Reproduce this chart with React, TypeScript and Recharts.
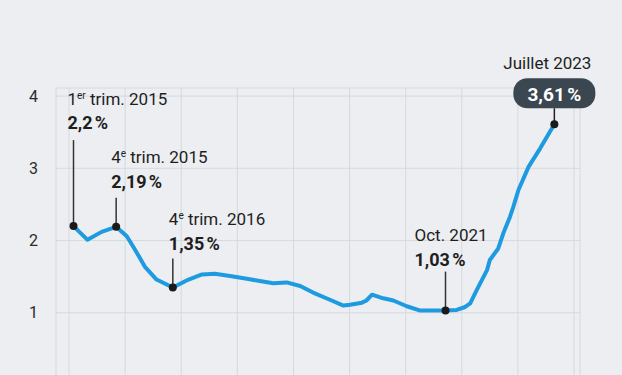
import { LineChart, Line, XAxis, YAxis, CartesianGrid, ReferenceDot } from 'recharts'

const dates = [
  2015.08, 2015.33, 2015.58, 2015.84, 2016.03, 2016.18, 2016.35, 2016.56, 2016.85, 2017.13,
  2017.37, 2017.6, 2017.87, 2018.17, 2018.4, 2018.64, 2018.88, 2019.12, 2019.35, 2019.65,
  2019.89, 2020.01, 2020.22, 2020.3, 2020.4, 2020.6, 2020.78, 2021.02, 2021.26, 2021.49,
  2021.71, 2021.91, 2022.06, 2022.15, 2022.27, 2022.33, 2022.45, 2022.5, 2022.65, 2022.74,
  2022.86, 2022.92, 2023.01, 2023.19, 2023.4, 2023.65,
]
const rates = [
  2.2, 2.01, 2.12, 2.19, 2.06, 1.87, 1.64, 1.46, 1.35, 1.46,
  1.53, 1.54, 1.51, 1.47, 1.44, 1.41, 1.42, 1.37, 1.28, 1.18,
  1.1, 1.11, 1.14, 1.17, 1.25, 1.2, 1.17, 1.09, 1.03, 1.03,
  1.03, 1.04, 1.08, 1.13, 1.32, 1.41, 1.59, 1.73, 1.89, 2.1,
  2.33, 2.47, 2.7, 3.02, 3.28, 3.61,
]
const yTicks = [0, 1, 2, 3, 4]
const xTicks = [2015, 2016, 2017, 2018, 2019, 2020, 2021, 2022, 2023, 2024]

// annotated points
const noteDates = [2015.08, 2015.84, 2016.85, 2021.71, 2023.65]
const noteRates = [2.2, 2.19, 1.35, 1.03, 3.61]
const noteTitles = [['1', 'er', ' trim. 2015'], ['4', 'e', ' trim. 2015'], ['4', 'e', ' trim. 2016'], ['Oct. 2021'], ['Juillet 2023']]
const noteValues = ['2,2\u202f%', '2,19\u202f%', '1,35\u202f%', '1,03\u202f%', '3,61\u202f%']

// offsets of the label blocks, relative to the dot
const noteLayout = [
  { dx: -6, titleDy: -121, valueDy: -97, stemTop: -86 },
  { dx: -5, titleDy: -64, valueDy: -39, stemTop: -29 },
  { dx: -4, titleDy: -62, valueDy: -37, stemTop: -29 },
  { dx: -31, titleDy: -70, valueDy: -45, stemTop: -39 },
  { dx: -7, titleDy: -55, valueDy: -23, stemTop: -16, badge: true },
]

const FONT = 'Roboto, "Noto Sans", sans-serif'
const INK = '#1e1e1e'

function Note({ cx, cy, i }: { cx: number; cy: number; i: number }) {
  const l = noteLayout[i]
  const [a, sup, b] = noteTitles[i]
  if (l.badge) {
    return (
      <g fontFamily={FONT}>
        <text x={cx + l.dx} y={cy + l.titleDy} textAnchor="middle" fontSize={17} fill={INK}>
          {a}
        </text>
        <rect x={cx - 41} y={cy - 46} width={82} height={30} rx={14} fill="#3a4650" />
        <text x={cx} y={cy + l.valueDy} textAnchor="middle" fontSize={19} fontWeight={700} fill="#fff">
          {noteValues[i]}
        </text>
        <line x1={cx} x2={cx} y1={cy + l.stemTop} y2={cy} stroke="#222" strokeWidth={1.5} />
        <circle cx={cx} cy={cy} r={4} fill="#1a1a1a" />
      </g>
    )
  }
  return (
    <g fontFamily={FONT}>
      <text x={cx + l.dx} y={cy + l.titleDy} fontSize={17} fill={INK}>
        {a}
        {sup && (
          <tspan fontSize={10} dy={-6}>
            {sup}
          </tspan>
        )}
        {b && <tspan dy={6}>{b}</tspan>}
      </text>
      <text x={cx + l.dx} y={cy + l.valueDy} fontSize={18} fontWeight={700} fill={INK}>
        {noteValues[i]}
      </text>
      <line x1={cx} x2={cx} y1={cy + l.stemTop} y2={cy} stroke="#333" strokeWidth={1.5} />
      <circle cx={cx} cy={cy} r={4} fill="#1a1a1a" />
    </g>
  )
}

export default function App() {
  const rows = dates.map((d, i) => ({ date: d, rate: rates[i] }))

  return (
    <div
      style={{
        position: 'absolute',
        left: 0,
        top: 0,
        width: 622,
        height: 375,
        overflow: 'hidden',
        background: '#eceef1',
      }}
    >
      <LineChart width={622} height={420} data={rows} margin={{ top: 88, right: 42, bottom: 14, left: 0 }}>
        <CartesianGrid stroke="#d6d9dd" strokeWidth={1} />
        <XAxis
          dataKey="date"
          type="number"
          domain={[2014.768, 2024.107]}
          ticks={xTicks}
          axisLine={false}
          tickLine={false}
          height={21}
          // year labels sit below the visible crop, so draw nothing for them
          tick={() => <g />}
        />
        <YAxis
          type="number"
          domain={[0, 4.112]}
          ticks={yTicks}
          width={56}
          axisLine={false}
          tickLine={false}
          tickSize={0}
          tickMargin={18}
          tick={{ fontSize: 16, fill: '#2b2b2b', fontFamily: FONT }}
        />
        <Line
          type="linear"
          dataKey="rate"
          stroke="#1e9be0"
          strokeWidth={4}
          strokeLinejoin="round"
          dot={false}
          isAnimationActive={false}
        />
        {noteDates.map((d, i) => (
          <ReferenceDot
            key={i}
            x={d}
            y={noteRates[i]}
            r={4}
            shape={(p: any) => <Note cx={p.cx} cy={p.cy} i={i} />}
          />
        ))}
      </LineChart>
    </div>
  )
}
